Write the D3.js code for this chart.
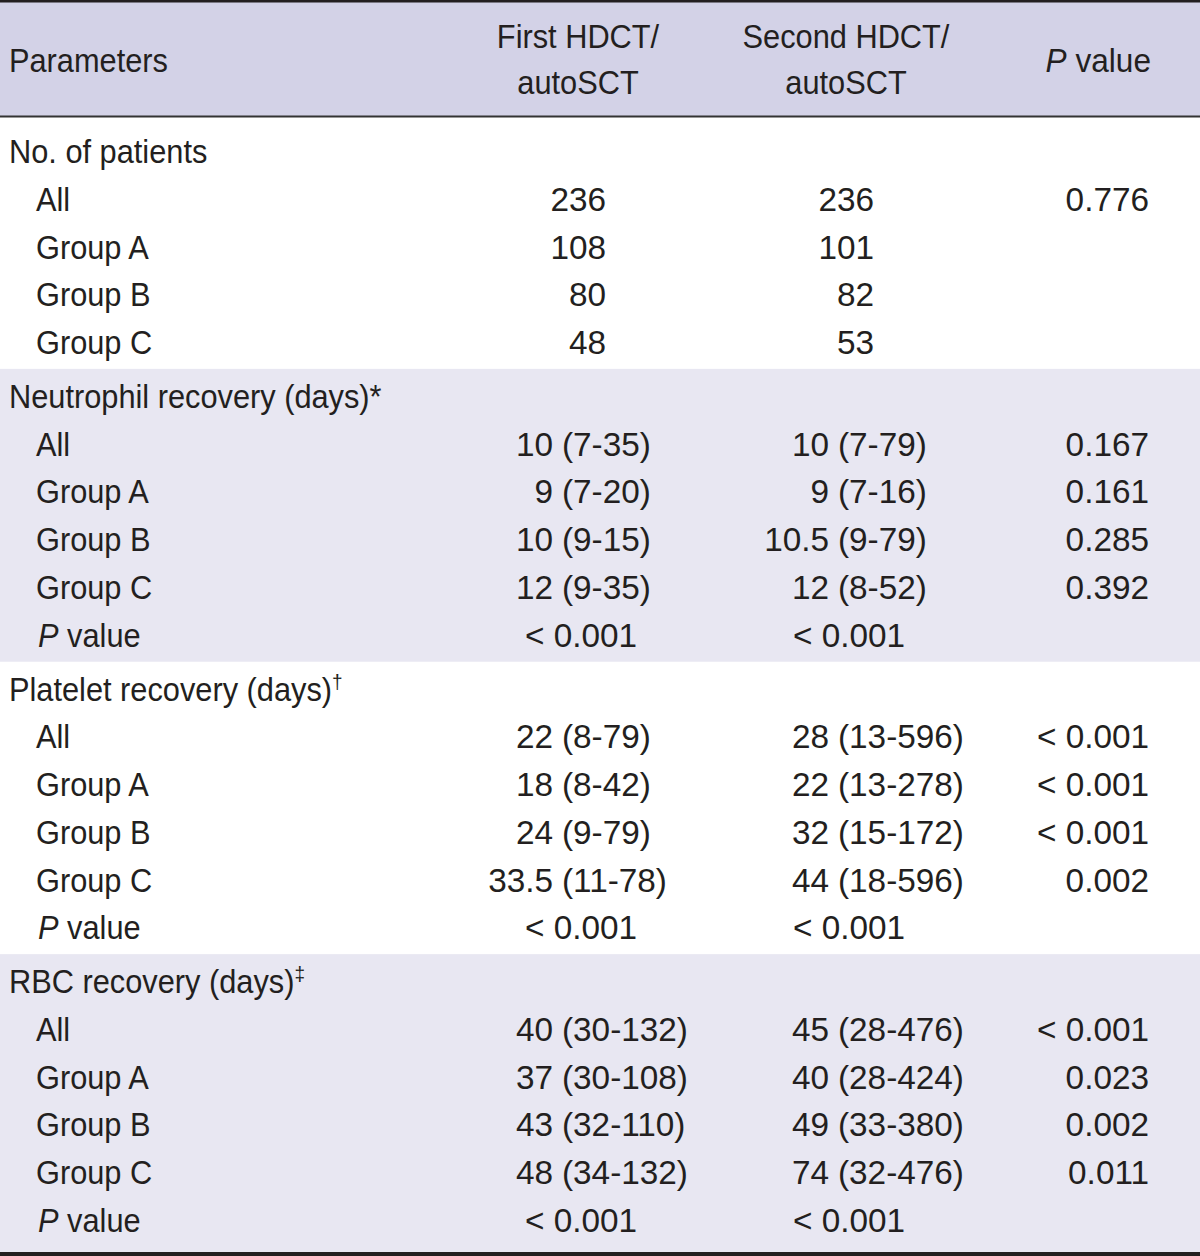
<!DOCTYPE html>
<html>
<head>
<meta charset="utf-8">
<script src="https://cdn.jsdelivr.net/npm/d3@7"></script>
<style>
  html, body { margin: 0; padding: 0; background: #fff; }
  svg { display: block; }
  text { font-family: 'Liberation Sans', Arial, sans-serif; fill: #231f20; }
</style>
</head>
<body>
<svg id="chart" width="1200" height="1256"></svg>
<script>
// ---------- data ----------
const headerCols = [["Parameters"], ["First HDCT/", "autoSCT"], ["Second HDCT/", "autoSCT"], ["P value"]];
const sectionTitles = ["No. of patients", "Neutrophil recovery (days)", "Platelet recovery (days)", "RBC recovery (days)"];
const sectionMarks = ["", "*", "\u2020", "\u2021"];
const sectionShaded = [false, true, false, true];
const rowLabels = [
  ["All", "Group A", "Group B", "Group C"],
  ["All", "Group A", "Group B", "Group C", "P value"],
  ["All", "Group A", "Group B", "Group C", "P value"],
  ["All", "Group A", "Group B", "Group C", "P value"]
];
const firstValues = [
  ["236", "108", "80", "48"],
  ["10 (7-35)", "9 (7-20)", "10 (9-15)", "12 (9-35)", "< 0.001"],
  ["22 (8-79)", "18 (8-42)", "24 (9-79)", "33.5 (11-78)", "< 0.001"],
  ["40 (30-132)", "37 (30-108)", "43 (32-110)", "48 (34-132)", "< 0.001"]
];
const secondValues = [
  ["236", "101", "82", "53"],
  ["10 (7-79)", "9 (7-16)", "10.5 (9-79)", "12 (8-52)", "< 0.001"],
  ["28 (13-596)", "22 (13-278)", "32 (15-172)", "44 (18-596)", "< 0.001"],
  ["45 (28-476)", "40 (28-424)", "49 (33-380)", "74 (32-476)", "< 0.001"]
];
const pValues = [
  ["0.776", "", "", ""],
  ["0.167", "0.161", "0.285", "0.392", ""],
  ["< 0.001", "< 0.001", "< 0.001", "0.002", ""],
  ["< 0.001", "0.023", "0.002", "0.011", ""]
];

// ---------- layout ----------
const W = 1200, H = 1256;
const FS = 34, SX_LABEL = 0.905, SX_NUM = 0.98, BASE = 12;
const headerBottom = 117;
const colCenter = [0, 578, 846, 1100];
const parenX = [0, 562, 838];
const countRight = [0, 606, 874];
const pRight = 1149;
const labelX = 9, subLabelX = 36;
const colors = { header: "#d3d2e7", shade: "#e8e7f2", line: "#231f20" };

const rows = [];
sectionTitles.forEach((t, s) => {
  rows.push({ s, type: "title" });
  rowLabels[s].forEach((l, i) => rows.push({ s, type: "data", i }));
});
const y = d3.scaleLinear().domain([0, rows.length - 1]).range([151, 1220 - 18]);
const secGap = 6;
rows.forEach((r, k) => r.y = y(k) + r.s * secGap);

const svg = d3.select("#chart");

svg.append("rect").attr("x", 0).attr("y", 0).attr("width", W).attr("height", headerBottom).attr("fill", colors.header);

sectionTitles.forEach((t, s) => {
  const rs = rows.filter(r => r.s === s);
  const top = s === 0 ? headerBottom : rs[0].y - 27;
  const bottom = s === sectionTitles.length - 1 ? H - 4 : rs[rs.length - 1].y + 27;
  if (sectionShaded[s]) {
    svg.append("rect").attr("x", 0).attr("y", top).attr("width", W).attr("height", bottom - top).attr("fill", colors.shade);
  }
});

svg.append("rect").attr("x", 0).attr("y", 0).attr("width", W).attr("height", 2.5).attr("fill", colors.line);
svg.append("rect").attr("x", 0).attr("y", headerBottom - 1.5).attr("width", W).attr("height", 2).attr("fill", "#333");
svg.append("rect").attr("x", 0).attr("y", H - 4).attr("width", W).attr("height", 4).attr("fill", colors.line);

function txt(x, yc, anchor, sx) {
  return svg.append("text")
    .attr("transform", `translate(${x},${yc + BASE}) scale(${sx},1)`)
    .attr("text-anchor", anchor)
    .attr("font-size", FS);
}
function pLabel(x, yc, anchor, sx) {
  const t = txt(x, yc, anchor, sx);
  t.append("tspan").attr("font-style", "italic").text("P");
  t.append("tspan").text(" value");
  return t;
}

txt(labelX, 60, "start", SX_LABEL).text(headerCols[0][0]);
[1, 2].forEach(c => {
  txt(colCenter[c], 36, "middle", SX_LABEL).text(headerCols[c][0]);
  txt(colCenter[c], 82, "middle", SX_LABEL).text(headerCols[c][1]);
});
pLabel(1151, 60, "end", 0.93);

function placeValue(c, v, yc) {
  if (!v) return;
  const k = v.indexOf(" (");
  if (k >= 0) {
    txt(parenX[c] - 9, yc, "end", SX_NUM).text(v.slice(0, k));
    txt(parenX[c], yc, "start", SX_NUM).text(v.slice(k + 1));
  } else if (v.startsWith("<")) {
    txt(colCenter[c] + 3, yc, "middle", SX_NUM).text(v);
  } else {
    txt(countRight[c], yc, "end", SX_NUM).text(v);
  }
}

rows.forEach(r => {
  if (r.type === "title") {
    const t = txt(labelX, r.y, "start", SX_LABEL);
    t.append("tspan").text(sectionTitles[r.s]);
    const m = sectionMarks[r.s];
    if (m === "*") t.append("tspan").text(m);
    else if (m) t.append("tspan").attr("font-size", 21).attr("dy", -12).text(m);
  } else {
    const lab = rowLabels[r.s][r.i];
    if (lab === "P value") pLabel(subLabelX + 2, r.y, "start", SX_LABEL);
    else txt(subLabelX, r.y, "start", SX_LABEL).text(lab);
    placeValue(1, firstValues[r.s][r.i], r.y);
    placeValue(2, secondValues[r.s][r.i], r.y);
    const p = pValues[r.s][r.i];
    if (p) txt(pRight, r.y, "end", SX_NUM).text(p);
  }
});
</script>
</body>
</html>
